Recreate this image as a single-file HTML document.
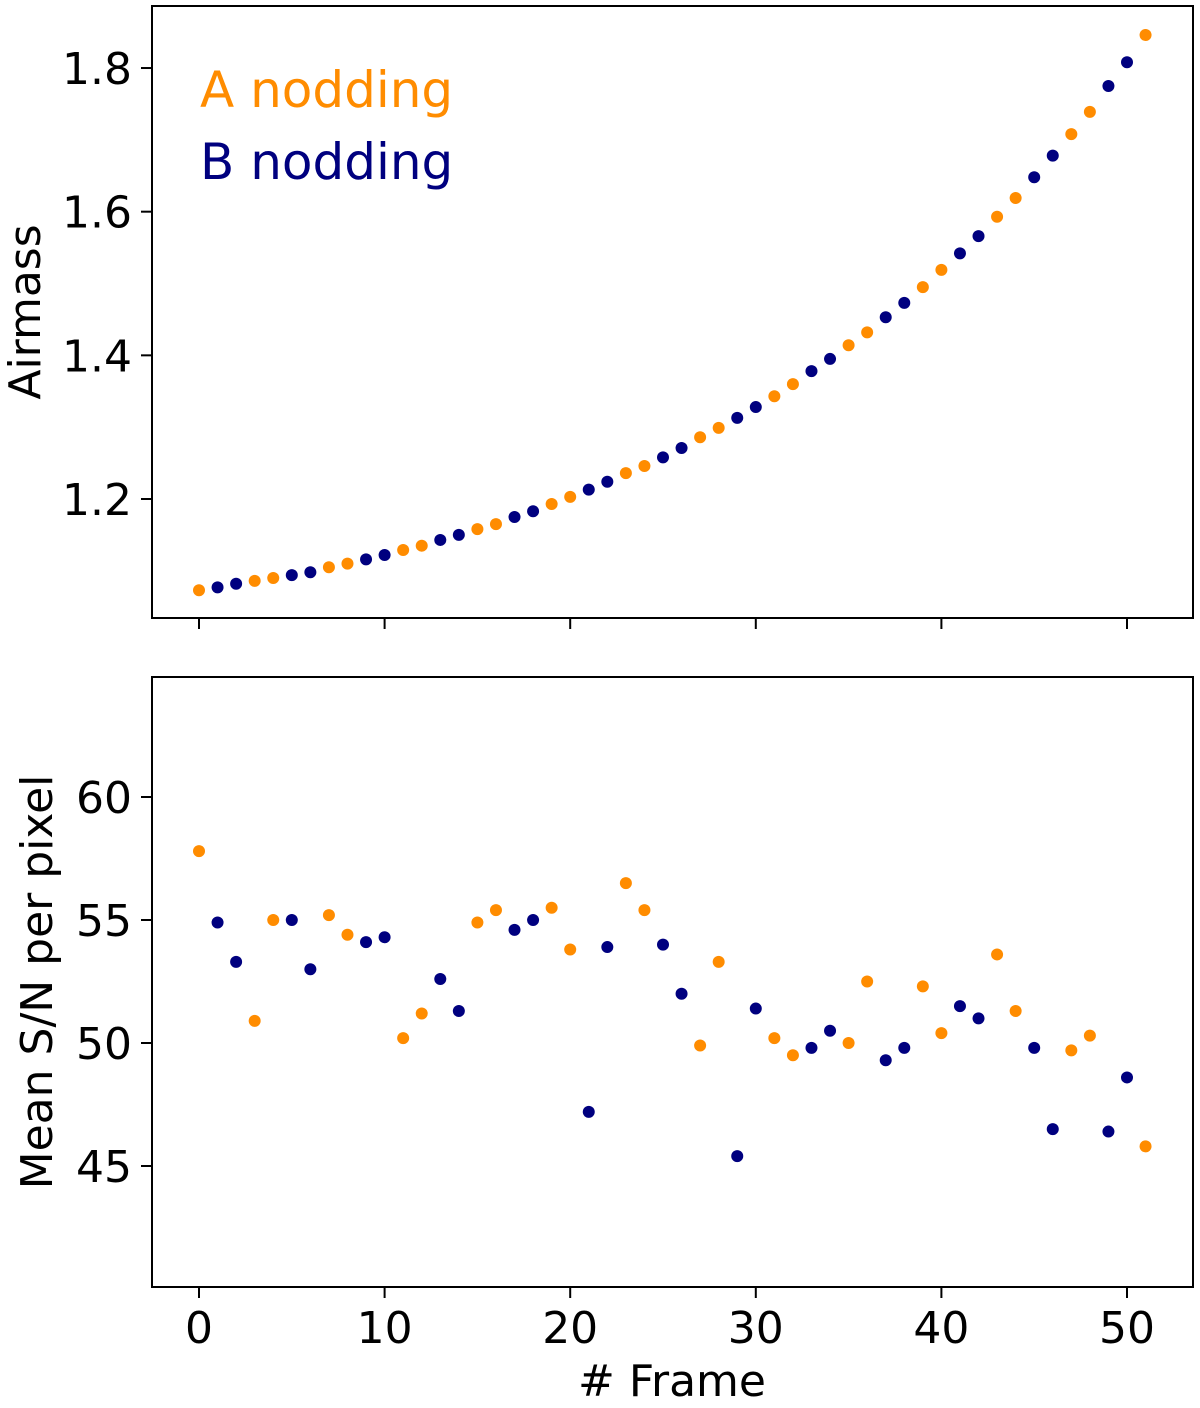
<!DOCTYPE html>
<html><head><meta charset="utf-8"><style>
body{margin:0;background:#fff}
svg text{font-family:"DejaVu Sans","Liberation Sans",sans-serif;fill:#000}
</style></head><body>
<svg id="chart" width="1200" height="1403" xmlns="http://www.w3.org/2000/svg"></svg>
<script>
const frames = Array.from({length:52},(_,i)=>i);
const nodding = ["A","B","B","A","A","B","B","A","A","B","B","A","A","B","B","A","A","B","B","A","A","B","B","A","A","B","B","A","A","B","B","A","A","B","B","A","A","B","B","A","A","B","B","A","A","B","B","A","A","B","B","A"];
const airmass = [1.073,1.077,1.082,1.086,1.090,1.094,1.098,1.105,1.110,1.116,1.122,1.129,1.135,1.143,1.150,1.158,1.165,1.175,1.183,1.193,1.203,1.213,1.224,1.236,1.246,1.258,1.271,1.286,1.299,1.313,1.328,1.343,1.360,1.378,1.395,1.414,1.432,1.453,1.473,1.495,1.519,1.542,1.566,1.593,1.619,1.648,1.678,1.708,1.739,1.775,1.808,1.846];
const snr = [57.8,54.9,53.3,50.9,55.0,55.0,53.0,55.2,54.4,54.1,54.3,50.2,51.2,52.6,51.3,54.9,55.4,54.6,55.0,55.5,53.8,47.2,53.9,56.5,55.4,54.0,52.0,49.9,53.3,45.4,51.4,50.2,49.5,49.8,50.5,50.0,52.5,49.3,49.8,52.3,50.4,51.5,51.0,53.6,51.3,49.8,46.5,49.7,50.3,46.4,48.6,45.8];
const xTicks = [0,10,20,30,40,50];
const airTicks = [1.2,1.4,1.6,1.8];
const snrTicks = [45,50,55,60];
const colors = {A:"#ff8c00",B:"#00007f"};

const svg = document.getElementById('chart');
const NS = "http://www.w3.org/2000/svg";
function mk(tag, attrs, parent){const e=document.createElementNS(NS,tag);for(const k in attrs)e.setAttribute(k,attrs[k]);(parent||svg).appendChild(e);return e;}
const L=152,R=1193;
const x = v => 199 + (v-0)*(1127-199)/50;
const yTop = v => 499 - (v-1.2)*718.3;
const yBot = v => 797 - (v-60)*24.6;

function panel(name, top, bottom, yf, yticks, vals, fmt, showX, label, labelX){
  const g = mk('g',{});
  
  
  const box = mk('rect',{x:L,y:top,width:R-L,height:bottom-top,fill:'none',stroke:'#000','stroke-width':2},g);
  
  
  xTicks.forEach(t=>{
    const l = mk('line',{x1:x(t),x2:x(t),y1:bottom,y2:bottom+11,stroke:'#000','stroke-width':2},g);
    
    
    if(showX){
      const tx = mk('text',{x:x(t),y:bottom+56,'font-size':44,'text-anchor':'middle'},g);
      tx.textContent=t;
      
      
    }
  });
  yticks.forEach(t=>{
    const l = mk('line',{x1:L-11,x2:L,y1:yf(t),y2:yf(t),stroke:'#000','stroke-width':2},g);
    
    
    const tx = mk('text',{x:L-20,y:yf(t)+16,'font-size':44,'text-anchor':'end'},g);
    tx.textContent=fmt(t);
    
    
  });
  const cy=(top+bottom)/2;
  const yl = mk('text',{x:labelX,y:cy,'font-size':44,'text-anchor':'middle',transform:`rotate(-90 ${labelX} ${cy})`},g);
  yl.textContent=label;
  
  
  frames.forEach((f,i)=>{
    const c = mk('circle',{cx:x(f),cy:yf(vals[i]),r:6,fill:colors[nodding[i]]},g);
    
    
  });
}
panel('airmass-panel',6,618,yTop,airTicks,airmass,t=>t.toFixed(1),false,'Airmass',40);
panel('snr-panel',677,1287,yBot,snrTicks,snr,t=>String(t),true,'Mean S/N per pixel',52);

const xl = mk('text',{x:672,y:1396,'font-size':44,'text-anchor':'middle'});
xl.textContent='# Frame';


const la = mk('text',{x:200,y:107,'font-size':50});
la.textContent='A nodding';
la.style.fill=colors.A;


const lb = mk('text',{x:200,y:179,'font-size':50});
lb.textContent='B nodding';
lb.style.fill=colors.B;


</script>
</body></html>
